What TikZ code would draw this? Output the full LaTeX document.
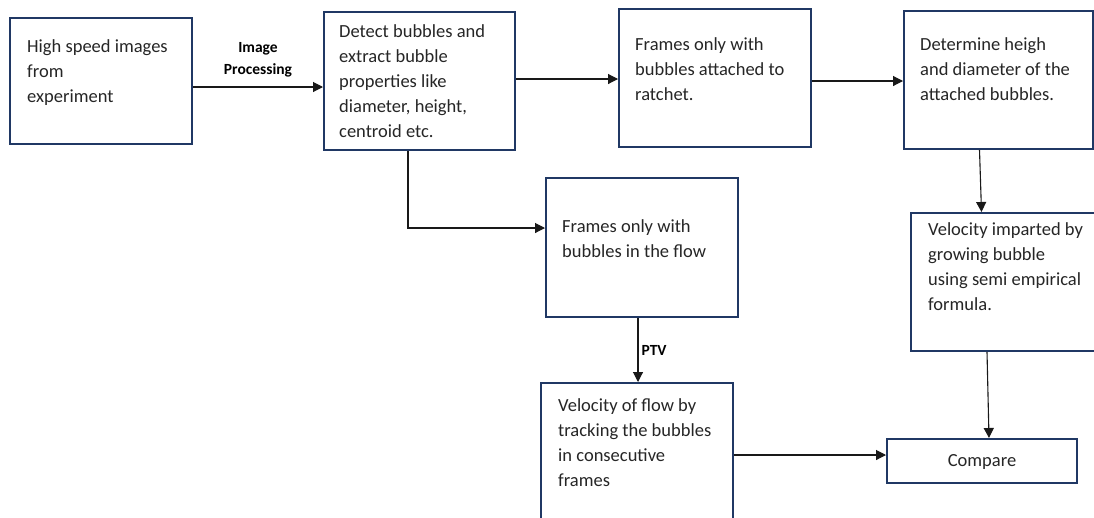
\documentclass[tikz,border=0pt]{standalone}
\usepackage{fontspec}
\setmainfont{Carlito}
\usetikzlibrary{arrows.meta}

\definecolor{boxedge}{HTML}{203864}
\definecolor{inktext}{HTML}{262626}

\tikzset{
  procbox/.style={draw=boxedge, line width=2pt, fill=white, anchor=north west,
                  inner sep=0pt},
  boxtext/.style={anchor=north west, inner sep=0pt, align=left, text=inktext,
                  font=\fontsize{18.5}{25}\selectfont},
  edgelabel/.style={inner sep=0pt, align=center, text=black,
                  font=\fontsize{15.5}{22}\selectfont\bfseries},
  link/.style={draw=black!90, line width=1.1pt,
               -{Triangle[length=10pt,width=10pt]}}
}

\begin{document}
\begin{tikzpicture}[x=1pt,y=-1pt]
  \useasboundingbox (0,0) rectangle (1094,517);

  % process boxes
  \node[procbox, minimum width=182pt, minimum height=126pt] (hs)    at (9,17)    {};
  \node[procbox, minimum width=191pt, minimum height=138pt] (det)   at (323,11)  {};
  \node[procbox, minimum width=192pt, minimum height=138pt] (att)   at (618,8)   {};
  \node[procbox, minimum width=189pt, minimum height=138pt] (dim)   at (903,10)  {};
  \node[procbox, minimum width=192pt, minimum height=138pt] (vel)   at (910,212) {};
  \node[procbox, minimum width=192pt, minimum height=139pt] (flow)  at (545,177) {};
  \node[procbox, minimum width=192pt, minimum height=144pt] (vflow) at (540,382) {};
  \node[procbox, minimum width=190pt, minimum height=44pt]  (cmp)   at (886,438) {};

  % box texts
  \node[boxtext] (hs-t)    at ([xshift=18pt,yshift=-22.5pt]hs.north west)
    {High speed images\\from\\experiment};
  \node[boxtext] (det-t)   at ([xshift=16pt,yshift=-13.5pt]det.north west)
    {Detect bubbles and\\extract bubble\\properties like\\diameter, height,\\centroid etc.};
  \node[boxtext] (att-t)   at ([xshift=17pt,yshift=-29.5pt]att.north west)
    {Frames only with\\bubbles attached to\\ratchet.};
  \node[boxtext] (dim-t)   at ([xshift=17pt,yshift=-27.5pt]dim.north west)
    {Determine heigh\\and diameter of the\\attached bubbles.};
  \node[boxtext] (vel-t)   at ([xshift=18pt,yshift=-10.5pt]vel.north west)
    {Velocity imparted by\\growing bubble\\using semi empirical\\formula.};
  \node[boxtext] (flow-t)  at ([xshift=17pt,yshift=-42.5pt]flow.north west)
    {Frames only with\\bubbles in the flow};
  \node[boxtext] (vflow-t) at ([xshift=18pt,yshift=-16.5pt]vflow.north west)
    {Velocity of flow by\\tracking the bubbles\\in consecutive\\frames};
  \node[text=inktext, font=\fontsize{18.5}{25}\selectfont, inner sep=0pt] (cmp-t)
    at ([yshift=-1pt]cmp.center) {Compare};

  % connectors
  \draw[link] ([yshift=-6pt]hs.east) -- ([yshift=-6pt]hs.east -| det.west)
    node[edgelabel, pos=0.5, above=9pt] (ip) {Image\\Processing};
  \draw[link] ([yshift=2pt]det.east) -- ([yshift=2pt]det.east -| att.west);
  \draw[link] ([yshift=-3pt]att.east) -- ([yshift=-3pt]att.east -| dim.west);
  \draw[link] ([xshift=-19pt]dim.south) -- ([xshift=-17pt]dim.south |- vel.north);

  \coordinate (split) at ([xshift=-11.5pt]det.south);
  \draw[link] (split) |- ([yshift=19.5pt]flow.west);

  \draw[link] ([xshift=-4pt]flow.south) -- ([xshift=-4pt]flow.south |- vflow.north)
    node[edgelabel, pos=0.5, anchor=west, xshift=3pt] (ptv) {PTV};

  \draw[link] ([xshift=-20pt]vel.south) -- ([xshift=7pt]cmp.north);
  \draw[link] (vflow.east) -- (vflow.east -| cmp.west);
\end{tikzpicture}
\end{document}
